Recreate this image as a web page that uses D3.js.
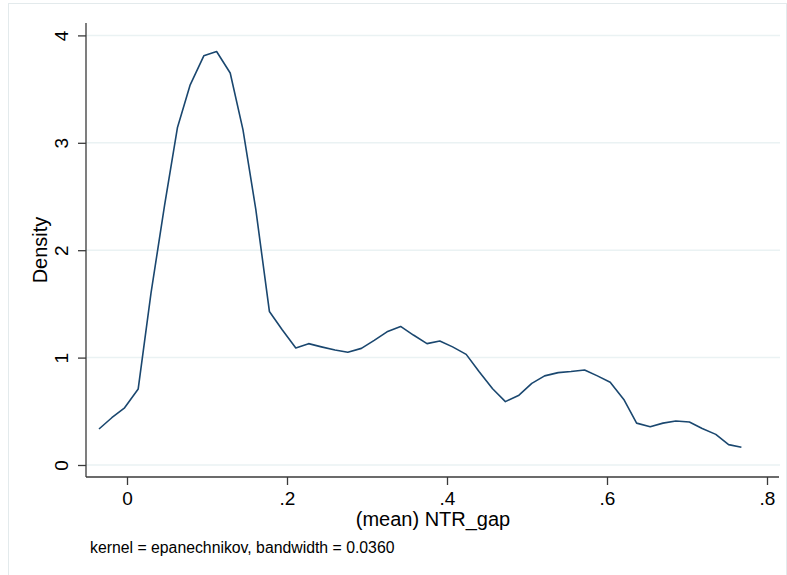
<!DOCTYPE html>
<html>
<head>
<meta charset="utf-8">
<script src="https://cdn.jsdelivr.net/npm/d3@7"></script>
<style>
  body { margin: 0; background: #fff; }
  text { font-family: "Liberation Sans", Arial, sans-serif; }
</style>
</head>
<body>
<svg></svg>
<script>
// kernel density estimate of (mean) NTR_gap, 50 evaluation points
var gridX = [-0.035, -0.019, -0.003, 0.014, 0.030, 0.047, 0.063, 0.079, 0.096, 0.112,
             0.129, 0.145, 0.161, 0.178, 0.194, 0.211, 0.227, 0.243, 0.260, 0.276,
             0.293, 0.309, 0.325, 0.342, 0.358, 0.375, 0.391, 0.407, 0.424, 0.440,
             0.457, 0.473, 0.490, 0.506, 0.522, 0.539, 0.555, 0.572, 0.588, 0.604,
             0.621, 0.637, 0.654, 0.670, 0.686, 0.703, 0.719, 0.736, 0.752, 0.768];
var density = [0.335, 0.44, 0.533, 0.708, 1.60, 2.42, 3.14, 3.54, 3.81, 3.85,
               3.65, 3.12, 2.38, 1.43, 1.26, 1.09, 1.13, 1.10, 1.07, 1.05,
               1.086, 1.16, 1.24, 1.29, 1.21, 1.13, 1.155, 1.10, 1.03, 0.87,
               0.71, 0.59, 0.65, 0.76, 0.83, 0.86, 0.87, 0.885, 0.83, 0.77,
               0.61, 0.39, 0.357, 0.39, 0.41, 0.40, 0.34, 0.285, 0.19, 0.165];
var xTicks = [0, 0.2, 0.4, 0.6, 0.8];
var xTickLabels = ["0", ".2", ".4", ".6", ".8"];
var yTicks = [0, 1, 2, 3, 4];

var width = 787, height = 575;
var svg = d3.select("svg").attr("width", width).attr("height", height);

// outer graph region
svg.append("rect")
    .attr("x", 8.5).attr("y", 3.5)
    .attr("width", 778).attr("height", 580)
    .attr("fill", "#fff")
    .attr("stroke", "#e3eaec");

var plotLeft = 86, plotRight = 779, plotTop = 23, plotBottom = 477;

var x = d3.scaleLinear().domain([0, 0.8]).range([127, 767]);
var y = d3.scaleLinear().domain([0, 4]).range([465, 35.4]);

// gridlines
svg.append("g")
  .selectAll("line")
  .data(yTicks)
  .enter().append("line")
    .attr("x1", plotLeft).attr("x2", plotRight + 1)
    .attr("y1", d => y(d)).attr("y2", d => y(d))
    .attr("stroke", "#eaf2f3")
    .attr("stroke-width", 1.5);

// y axis
var yAxis = svg.append("g")
    .attr("transform", "translate(" + plotLeft + ",0)")
    .call(d3.axisLeft(y).tickValues(yTicks).tickSize(8).tickFormat(d3.format("d")));
yAxis.select(".domain").attr("d", "M0," + plotTop + "V" + plotBottom);
yAxis.selectAll(".tick text")
    .attr("transform", "translate(-18,0) rotate(-90)")
    .attr("x", 0).attr("y", 0).attr("dy", 0)
    .attr("text-anchor", "middle")
    .style("font-size", "19px");

// x axis
var xAxis = svg.append("g")
    .attr("transform", "translate(0," + plotBottom + ")")
    .call(d3.axisBottom(x).tickValues(xTicks).tickSize(8).tickFormat((d, i) => xTickLabels[i]));
xAxis.select(".domain").attr("d", "M" + plotLeft + ",0H" + plotRight);
xAxis.selectAll(".tick text")
    .attr("y", 28).attr("dy", 0)
    .style("font-size", "19px");

svg.selectAll(".domain, .tick line")
    .attr("stroke", "#3a3a3a")
    .attr("stroke-width", 1.3);
svg.selectAll(".tick text").attr("fill", "#000");

// density curve
var line = d3.line()
    .x((d, i) => x(gridX[i]))
    .y(d => y(d));

svg.append("path")
    .datum(density)
    .attr("d", line)
    .attr("fill", "none")
    .attr("stroke", "#1a476f")
    .attr("stroke-width", 1.6)
    .attr("stroke-linejoin", "round");

// titles
svg.append("text")
    .attr("transform", "translate(47," + ((plotTop + plotBottom) / 2) + ") rotate(-90)")
    .attr("text-anchor", "middle")
    .style("font-size", "20px")
    .text("Density");

svg.append("text")
    .attr("x", 433).attr("y", 526)
    .attr("text-anchor", "middle")
    .style("font-size", "20px")
    .text("(mean) NTR_gap");

svg.append("text")
    .attr("x", 90).attr("y", 553)
    .style("font-size", "15.8px")
    .text("kernel = epanechnikov, bandwidth = 0.0360");
</script>
</body>
</html>
